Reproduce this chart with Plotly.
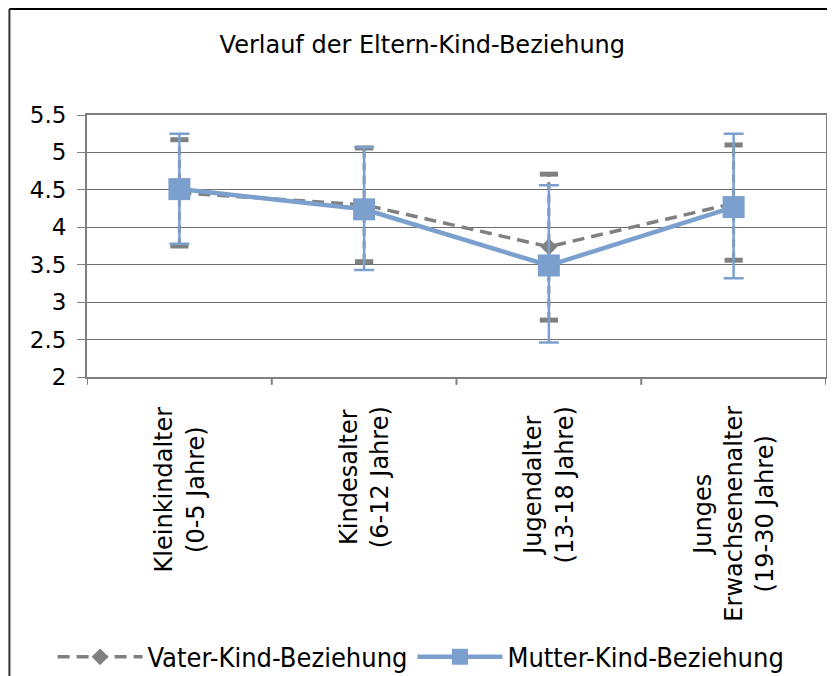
import plotly.graph_objects as go

categories = ["Kleinkindalter<br>(0-5 Jahre)", "Kindesalter<br>(6-12 Jahre)",
              "Jugendalter<br>(13-18 Jahre)", "Junges<br>Erwachsenenalter<br>(19-30 Jahre)"]
vater_mean = [4.46, 4.30, 3.74, 4.32]
vater_plus = [0.71, 0.76, 0.97, 0.78]
vater_minus = [0.71, 0.76, 0.98, 0.76]
mutter_mean = [4.51, 4.24, 3.49, 4.27]
mutter_plus = [0.74, 0.83, 1.07, 0.98]
mutter_minus = [0.73, 0.81, 1.03, 0.95]
y_ticks = [2, 2.5, 3, 3.5, 4, 4.5, 5, 5.5]
y_ticklabels = ["2", "2.5", "3", "3.5", "4", "4.5", "5", "5.5"]

GRAY = "#808080"
BLUE = "#7BA0CE"
FONT = "DejaVu Sans"

xi = list(range(len(categories)))

# dashed error bars for father series, built from the data
ex, ey = [], []
for i, m, p, n in zip(xi, vater_mean, vater_plus, vater_minus):
    ex += [i, i, None]
    ey += [m - n, m + p, None]

fig = go.Figure()
fig.add_trace(go.Scatter(x=ex, y=ey, mode="lines+markers", showlegend=False,
                         line=dict(color=GRAY, width=3, dash="8px,5px"),
                         marker=dict(symbol="line-ew", size=13,
                                     line=dict(color=GRAY, width=5)),
                         hoverinfo="skip"))
fig.add_trace(go.Scatter(x=xi, y=vater_mean, mode="lines+markers",
                         name="Vater-Kind-Beziehung",
                         line=dict(color=GRAY, width=3.5, dash="12px,7px"),
                         marker=dict(symbol="diamond", size=13, color=GRAY)))
fig.add_trace(go.Scatter(x=xi, y=mutter_mean, mode="lines+markers",
                         name="Mutter-Kind-Beziehung",
                         line=dict(color=BLUE, width=4.5),
                         marker=dict(symbol="square", size=22, color=BLUE),
                         error_y=dict(type="data", symmetric=False,
                                      array=mutter_plus, arrayminus=mutter_minus,
                                      color=BLUE, thickness=2.5, width=10)))

fig.update_layout(
    width=827, height=668,
    margin=dict(l=79, r=9, t=107, b=299, autoexpand=False),
    paper_bgcolor="white", plot_bgcolor="white",
    font=dict(family=FONT, size=23, color="black"),
    title=dict(text="Verlauf der Eltern-Kind-Beziehung", x=0.501, xanchor="center",
               y=0.945, yanchor="middle", font=dict(family=FONT, size=24)),
    showlegend=True,
    legend=dict(orientation="h", xref="container", x=0.4995, xanchor="center",
                yref="container", y=0.028, yanchor="middle",
                font=dict(family="DejaVu Sans Condensed, Liberation Sans", size=27),
                itemwidth=85, tracegroupgap=0, traceorder="normal"),
    xaxis=dict(range=[-0.5, 3.5], tickvals=xi, showticklabels=False,
               showgrid=False, showline=True, linecolor=GRAY, linewidth=2,
               ticks="", mirror=True, zeroline=False),
    yaxis=dict(range=[2, 5.5], tickvals=y_ticks, ticktext=y_ticklabels,
               showgrid=True, gridcolor="#6e6e6e", gridwidth=1,
               showline=True, linecolor=GRAY, linewidth=2, mirror=True,
               ticks="outside", ticklen=8, tickcolor=GRAY, zeroline=False,
               ticklabelstandoff=6,
               tickfont=dict(family=FONT, size=23)),
)

# category labels, rotated and centred under each category
for i, lab in zip(xi, categories):
    fig.add_annotation(x=i, xref="x", y=0, yref="paper", yshift=-27,
                       xanchor="center", yanchor="top", text=lab, textangle=-90,
                       align="center", showarrow=False,
                       font=dict(family=FONT, size=24))

# category separator ticks on the x axis
for b in [-0.5, 0.5, 1.5, 2.5, 3.5]:
    fig.add_shape(type="line", xref="x", yref="paper", x0=b, x1=b, y0=0, y1=-0.03,
                  line=dict(color=GRAY, width=2))

# outer chart border (top and left)
fig.add_shape(type="line", xref="paper", yref="paper", x0=-0.105, x1=1.02,
              y0=1.405, y1=1.405, line=dict(color="black", width=2))
fig.add_shape(type="line", xref="paper", yref="paper", x0=-0.105, x1=-0.105,
              y0=1.405, y1=-1.2, line=dict(color="#333333", width=2))

fig.write_html("out.html")
